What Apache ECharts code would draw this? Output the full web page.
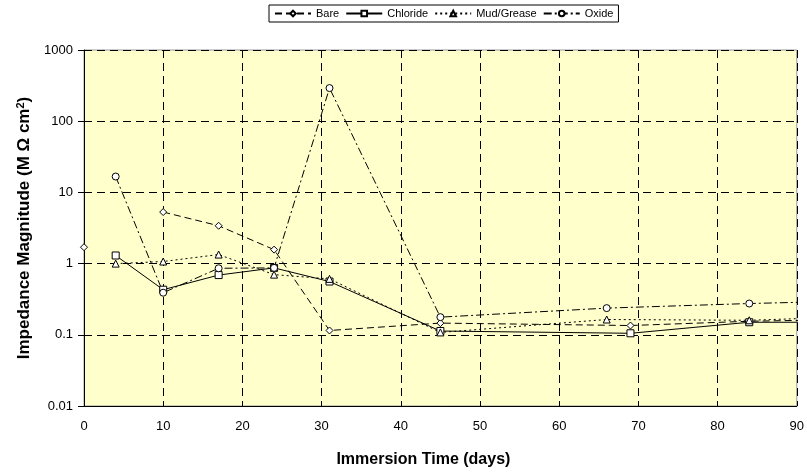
<!DOCTYPE html>
<html>
<head>
<meta charset="utf-8">
<script src="https://cdn.jsdelivr.net/npm/echarts@6/dist/echarts.min.js"></script>
<style>
  html, body { margin: 0; padding: 0; background: #fff; }
  #chart { width: 807px; height: 474px; }
</style>
</head>
<body>
<div id="chart"></div>
<script>
// immersion days and impedance (M ohm cm2) per coating condition
const bareDays = [0, 4, 10, 17, 24, 31, 45, 69, 84, 98]
const bareValues = [1.7, null, 5.3, 3.4, 1.57, 0.115, 0.146, 0.135, 0.155, 0.165]

const chlorideDays = [4, 10, 17, 24, 31, 45, 69, 84, 98]
const chlorideValues = [1.3, 0.43, 0.69, 0.87, 0.56, 0.113, 0.105, 0.15, 0.15]

const mudDays = [4, 10, 17, 24, 31, 45, 66, 84, 98]
const mudValues = [1.0, 1.07, 1.34, 0.7, 0.61, 0.108, 0.164, 0.16, 0.18]

const oxideDays = [4, 10, 17, 24, 31, 45, 66, 84, 98]
const oxideValues = [16.7, 0.39, 0.86, 0.87, 292, 0.177, 0.237, 0.275, 0.3]

const seriesNames = ['Bare', 'Chloride', 'Mud/Grease', 'Oxide']
const yTicks = [0.01, 0.1, 1, 10, 100, 1000]

function pairs (days, values) {
  return days.map((d, i) => [d, values[i] === null ? '-' : values[i]])
}

const chart = echarts.init(document.getElementById('chart'))

const markerStyle = {
  color: '#fff',
  borderColor: '#000',
  borderWidth: 1
}

function makeSeries (name, days, values, symbol, size, lineType) {
  return {
    name: name,
    type: 'line',
    data: pairs(days, values),
    symbol: symbol,
    symbolSize: size,
    showAllSymbol: true,
    connectNulls: false,
    clip: true,
    itemStyle: markerStyle,
    lineStyle: {
      color: '#000',
      width: 1,
      type: lineType
    },
    emphasis: { disabled: true }
  }
}

const option = {
  animation: false,
  textStyle: { fontFamily: 'Liberation Sans, Arial, sans-serif' },
  legend: {
    data: seriesNames,
    top: 5,
    left: 269,
    padding: [3, 5, 3, 5],
    itemGap: 6,
    itemWidth: 36,
    itemHeight: 7,
    borderColor: '#000',
    borderWidth: 1,
    textStyle: { fontSize: 11, color: '#000' }
  },
  grid: {
    left: 84,
    right: 10,
    top: 50,
    bottom: 68,
    show: true,
    backgroundColor: '#FFFFCC',
    borderColor: '#999',
    borderWidth: 1
  },
  xAxis: {
    type: 'value',
    min: 0,
    max: 90,
    interval: 10,
    name: 'Immersion Time (days)',
    nameLocation: 'middle',
    nameGap: 46,
    nameTextStyle: { fontSize: 16, fontWeight: 'bold', color: '#000', padding: [0, 34, 0, 0] },
    axisLine: { show: true, lineStyle: { color: '#000', width: 1 } },
    axisTick: { show: false },
    axisLabel: { fontSize: 13, color: '#000', margin: 14 },
    splitLine: {
      show: true,
      lineStyle: { color: '#000', type: [8, 5], width: 1 }
    }
  },
  yAxis: {
    type: 'log',
    logBase: 10,
    min: yTicks[0],
    max: yTicks[yTicks.length - 1],
    name: 'Impedance Magnitude (M Ω cm{sup|2})',
    nameLocation: 'middle',
    nameGap: 41,
    nameRotate: 90,
    nameTextStyle: {
      fontSize: 17,
      fontWeight: 'bold',
      color: '#000',
      rich: {
        sup: { fontSize: 11, fontWeight: 'bold', verticalAlign: 'top', padding: [0, 0, 8, 0] }
      }
    },
    axisLine: { show: true, lineStyle: { color: '#000', width: 1 } },
    axisTick: { show: true, inside: false, length: 6, lineStyle: { color: '#000' } },
    axisLabel: {
      fontSize: 13,
      color: '#000',
      margin: 11,
      formatter: function (v) {
        return String(parseFloat(v.toPrecision(3)))
      }
    },
    splitLine: {
      show: true,
      lineStyle: { color: '#000', type: [8, 5], width: 1 }
    }
  },
  series: [
    makeSeries('Bare', bareDays, bareValues, 'diamond', 7, [7, 4]),
    makeSeries('Chloride', chlorideDays, chlorideValues, 'rect', 7, 'solid'),
    makeSeries('Mud/Grease', mudDays, mudValues, 'triangle', 7, [2, 3]),
    makeSeries('Oxide', oxideDays, oxideValues, 'circle', 7, [8, 3, 2, 3])
  ]
}

chart.setOption(option)
</script>
</body>
</html>
